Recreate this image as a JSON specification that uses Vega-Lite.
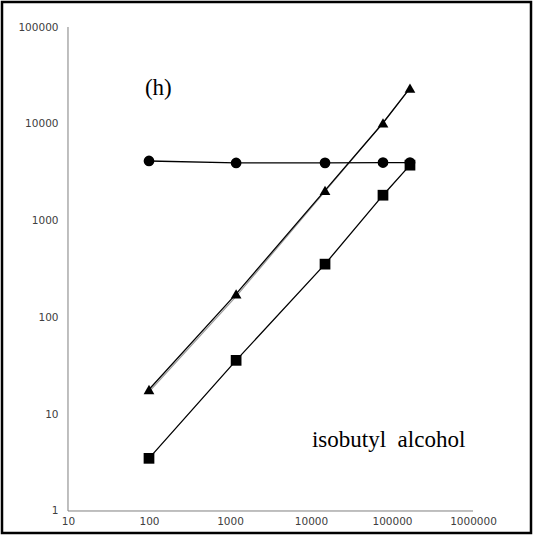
{
  "$schema": "https://vega.github.io/schema/vega-lite/v6.json",
  "width": 529,
  "height": 531,
  "padding": 2,
  "autosize": {"type": "none"},
  "background": "white",
  "config": {
    "view": {"stroke": "black", "strokeWidth": 2.5},
    "axis": {"grid": false, "domain": false, "ticks": false, "labelFont": "DejaVu Sans", "labelFontSize": 10.5, "labelColor": "#404040", "title": null}
  },
  "datasets": {
    "pts": [
      {"series": "circle", "conc": 100, "val": 4130},
      {"series": "circle", "conc": 1190, "val": 3940},
      {"series": "circle", "conc": 14900, "val": 3950},
      {"series": "circle", "conc": 77400, "val": 3980},
      {"series": "circle", "conc": 166700, "val": 3980},
      {"series": "triangle", "conc": 100, "val": 18},
      {"series": "triangle", "conc": 1190, "val": 175},
      {"series": "triangle", "conc": 14900, "val": 2050},
      {"series": "triangle", "conc": 77400, "val": 10200},
      {"series": "triangle", "conc": 166700, "val": 23400},
      {"series": "square", "conc": 100, "val": 3.5},
      {"series": "square", "conc": 1190, "val": 36},
      {"series": "square", "conc": 14900, "val": 355},
      {"series": "square", "conc": 77400, "val": 1830},
      {"series": "square", "conc": 166700, "val": 3740}
    ],
    "ghost": [
      {"series": "triangle-b", "conc": 100, "val": 17},
      {"series": "triangle-b", "conc": 1190, "val": 165},
      {"series": "triangle-b", "conc": 14900, "val": 2000},
      {"series": "triangle-b", "conc": 77400, "val": 10200},
      {"series": "triangle-b", "conc": 166700, "val": 23400}
    ],
    "one": [{}]
  },
  "layer": [
    {
      "data": {"name": "one"},
      "mark": {"type": "rule", "color": "#7f7f7f", "strokeWidth": 1},
      "encoding": {
        "x": {"datum": 10, "type": "quantitative", "scale": {"type": "log", "domain": [1.532, 5200000], "nice": false}, "axis": {"values": [10, 100, 1000, 10000, 100000, 1000000], "format": "d", "offset": -22, "labelPadding": 5}},
        "x2": {"datum": 1000000},
        "y": {"datum": 1, "type": "quantitative", "scale": {"type": "log", "domain": [0.5925, 181300], "nice": false}, "axis": {"values": [1, 10, 100, 1000, 10000, 100000], "format": "d", "offset": -66, "labelPadding": 10}}
      }
    },
    {
      "data": {"name": "one"},
      "mark": {"type": "rule", "color": "#7f7f7f", "strokeWidth": 1},
      "encoding": {
        "x": {"datum": 10, "type": "quantitative"},
        "y": {"datum": 1, "type": "quantitative"},
        "y2": {"datum": 100000}
      }
    },
    {
      "data": {"name": "ghost"},
      "mark": {"type": "line", "color": "#9a9a9a", "strokeWidth": 1.2},
      "encoding": {
        "x": {"field": "conc", "type": "quantitative"},
        "y": {"field": "val", "type": "quantitative"},
        "detail": {"field": "series"}
      }
    },
    {
      "data": {"name": "pts"},
      "mark": {"type": "line", "color": "black", "strokeWidth": 1.3},
      "encoding": {
        "x": {"field": "conc", "type": "quantitative"},
        "y": {"field": "val", "type": "quantitative"},
        "detail": {"field": "series"}
      }
    },
    {
      "data": {"name": "pts"},
      "mark": {"type": "point", "filled": true, "color": "black", "opacity": 1},
      "encoding": {
        "x": {"field": "conc", "type": "quantitative"},
        "y": {"field": "val", "type": "quantitative"},
        "shape": {"field": "series", "type": "nominal", "scale": {"domain": ["circle", "triangle", "square"], "range": ["circle", "triangle-up", "square"]}, "legend": null},
        "size": {"value": 115}
      }
    },
    {
      "data": {"name": "one"},
      "mark": {"type": "text", "font": "Liberation Serif", "fontSize": 23, "align": "left", "baseline": "middle", "color": "black"},
      "encoding": {
        "x": {"datum": 89, "type": "quantitative"},
        "y": {"datum": 23500, "type": "quantitative"},
        "text": {"value": "(h)"}
      }
    },
    {
      "data": {"name": "one"},
      "mark": {"type": "text", "font": "Liberation Serif", "fontSize": 23, "align": "left", "baseline": "middle", "color": "black"},
      "encoding": {
        "x": {"datum": 10280, "type": "quantitative"},
        "y": {"datum": 5.4, "type": "quantitative"},
        "text": {"value": "isobutyl\u00a0\u00a0alcohol"}
      }
    }
  ]
}
